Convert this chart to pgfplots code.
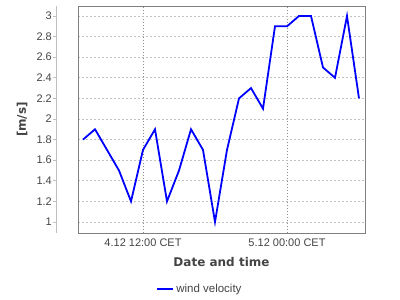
\documentclass[border=0pt]{standalone}
\usepackage{fontspec}
\setmainfont{Liberation Sans}
\newfontfamily\labfont{DejaVu Sans}
\usepackage{pgfplots}
\pgfplotsset{compat=1.18}
\definecolor{txt}{HTML}{444444}
\definecolor{boxc}{HTML}{808080}
\definecolor{hgrid}{HTML}{C0C0C0}
\definecolor{vgrid}{HTML}{8C8C8C}
\begin{document}
\begin{tikzpicture}
\path[use as bounding box] (0,0) rectangle (400bp,300bp);
% separate value axis on the left
\begin{axis}[
  at={(56bp,67bp)}, anchor=south west, scale only axis,
  width=1bp, height=227bp,
  xmin=0, xmax=1, ymin=0.893, ymax=3.097,
  axis x line=none, axis y line*=left,
  y axis line style={hgrid, line width=0.8bp, -},
  ytick={1,1.2,1.4,1.6,1.8,2,2.2,2.4,2.6,2.8,3},
  yticklabels={1,1.2,1.4,1.6,1.8,2,2.2,2.4,2.6,2.8,3},
  tick align=outside, major tick length=3bp,
  ytick style={hgrid, line width=0.8bp},
  yticklabel style={font=\fontsize{11bp}{13bp}\selectfont, text=txt, anchor=east, inner sep=0pt, xshift=-1bp},
  ylabel={[m/s]},
  every axis y label/.style={at={(rel axis cs:0,0.5)}, rotate=90, anchor=center, yshift=34bp,
     font=\labfont\bfseries\fontsize{12bp}{14bp}\selectfont, text=txt},
]
\addplot[draw=none] coordinates {(0,1) (1,1)};
\end{axis}
% main plot area
\begin{axis}[
  at={(78bp,67bp)}, anchor=south west, scale only axis,
  width=287bp, height=227bp,
  xmin=6.583, xmax=30.5, ymin=0.893, ymax=3.097,
  axis line style={boxc, line width=0.8bp},
  xtick={12,24},
  xticklabels={4.12 12:00 CET, 5.12 00:00 CET},
  ytick={1,1.2,1.4,1.6,1.8,2,2.2,2.4,2.6,2.8,3},
  yticklabels={},
  major tick length=0pt,
  grid=major,
  x grid style={vgrid, line width=0.6bp, dash pattern=on 1.5bp off 1.5bp},
  y grid style={hgrid, line width=0.6bp, dash pattern=on 2bp off 2bp},
  xticklabel style={font=\fontsize{11bp}{13bp}\selectfont, text=txt, anchor=base, inner sep=0pt, yshift=-13bp},
  xlabel={Date and time},
  every axis x label/.style={at={(rel axis cs:0.5,0)}, anchor=base, yshift=-33bp,
     font=\labfont\bfseries\fontsize{12bp}{14bp}\selectfont, text=txt},
  legend style={at={(0.4251,-0.2467)}, anchor=center, draw=none, fill=none,
     font=\fontsize{11.5bp}{13bp}\selectfont, text=txt, inner sep=0pt},
  legend image code/.code={\draw[#1] (0bp,0bp) -- (16bp,0bp);},
]
\addplot[blue, line width=1.8bp, mark=none, line join=miter] coordinates {
(7,1.8) (8,1.9) (9,1.7) (10,1.5) (11,1.2) (12,1.7) (13,1.9) (14,1.2)
(15,1.5) (16,1.9) (17,1.7) (18,1.0) (19,1.7) (20,2.2) (21,2.3) (22,2.1)
(23,2.9) (24,2.9) (25,3.0) (26,3.0) (27,2.5) (28,2.4) (29,3.0) (30,2.2)
};
\addlegendentry{wind velocity}
\end{axis}
\end{tikzpicture}
\end{document}
